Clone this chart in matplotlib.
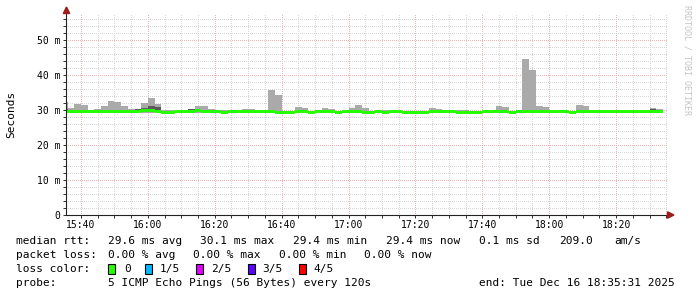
import matplotlib
matplotlib.use("Agg")
import matplotlib.pyplot as plt
from matplotlib.patches import Polygon, Rectangle
from matplotlib.ticker import FixedLocator, MultipleLocator, FuncFormatter

# ---------------- data (milliseconds, 2-minute steps from 15:34) ----------------
step_start_min = 34          # minutes after 15:00 of first step
step_len_min = 2

max_ms = [32.4, 30.5, 31.8, 31.4, 30.0, 30.4, 31.1, 32.7, 32.3, 31.1,
          30.4, 30.4, 32.1, 33.5, 31.8, 30.0, 30.0, 29.8, 29.8, 30.4,
          31.1, 31.1, 30.3, 29.8, 30.0, 30.0, 30.0, 30.3, 30.3, 30.1,
          30.1, 35.7, 34.3, 29.8, 29.8, 30.9, 30.6, 29.8, 30.1, 30.6,
          30.3, 29.8, 29.8, 30.6, 31.4, 30.6, 29.8, 30.0, 30.0, 30.0,
          29.6, 29.6, 29.6, 29.6, 29.6, 30.6, 30.3, 29.7, 29.7, 30.0,
          30.0, 29.6, 29.6, 29.6, 29.6, 31.1, 30.9, 29.7, 29.5, 44.6,
          41.4, 31.2, 30.9, 29.5, 29.5, 29.5, 29.5, 31.4, 31.2, 29.5,
          29.5, 29.5, 29.5, 29.5, 29.5, 29.5, 29.5, 29.5, 30.6, 30.2]

second_ms = [30.3, 29.9, 29.9, 29.9, 29.9, 29.9, 29.9, 29.9, 29.9, 29.9,
             29.9, 30.4, 30.5, 31.2, 31.0, 29.9, 29.9, 29.9, 29.9, 30.4,
             29.9, 29.9, 29.9, 29.9, 29.9, 29.9, 29.9, 29.9, 29.9, 30.1,
             30.1, 29.9, 29.9, 29.9, 29.9, 29.9, 29.9, 29.9, 29.9, 29.9,
             29.9, 29.9, 29.9, 29.9, 29.9, 29.9, 29.9, 29.9, 29.9, 29.9,
             29.9, 29.9, 29.9, 29.9, 29.9, 29.9, 29.9, 29.9, 29.9, 29.9,
             29.9, 29.9, 29.9, 29.9, 29.9, 29.9, 29.9, 29.9, 29.9, 29.9,
             29.9, 29.9, 29.9, 29.9, 29.9, 29.9, 29.9, 29.9, 29.9, 29.9,
             29.9, 29.9, 29.9, 29.9, 29.9, 29.9, 29.9, 29.9, 30.4, 30.1]

median_ms = [29.6, 29.6, 29.6, 29.6, 29.6, 29.6, 29.6, 29.6, 29.6, 29.6,
             29.6, 29.6, 29.8, 29.8, 29.6, 29.3, 29.3, 29.6, 29.6, 29.6,
             29.8, 29.6, 29.6, 29.6, 29.3, 29.6, 29.6, 29.6, 29.6, 29.6,
             29.6, 29.6, 29.3, 29.3, 29.3, 29.6, 29.6, 29.3, 29.6, 29.6,
             29.6, 29.3, 29.6, 29.6, 29.6, 29.3, 29.3, 29.6, 29.3, 29.6,
             29.6, 29.3, 29.3, 29.3, 29.3, 29.6, 29.6, 29.6, 29.6, 29.3,
             29.3, 29.3, 29.3, 29.6, 29.6, 29.6, 29.6, 29.3, 29.6, 29.6,
             29.6, 29.6, 29.6, 29.6, 29.6, 29.6, 29.3, 29.6, 29.6, 29.6,
             29.6, 29.6, 29.6, 29.6, 29.6, 29.6, 29.6, 29.6, 29.6, 29.6]

min_ms = [29.2] * len(max_ms)

x_tick_minutes = [40, 60, 80, 100, 120, 140, 160, 180, 200]
x_tick_labels = ["15:40", "16:00", "16:20", "16:40", "17:00", "17:20", "17:40", "18:00", "18:20"]
y_ticks_ms = [0, 10, 20, 30, 40, 50]

legend_lines = [
    [(16, "median rtt:"), (108, "29.6 ms avg"), (200, "30.1 ms max"), (293, "29.4 ms min"),
     (386, "29.4 ms now"), (479, "0.1 ms sd"), (559, "209.0"), (614, "am/s")],
    [(16, "packet loss:"), (108, "0.00 % avg"), (193, "0.00 % max"), (279, "0.00 % min"),
     (364, "0.00 % now")],
    [(16, "loss color:")],
    [(16, "probe:"), (108, "5 ICMP Echo Pings (56 Bytes) every 120s"),
     (479, "end: Tue Dec 16 18:35:31 2025")],
]
loss_labels = ["0", "1/5", "2/5", "3/5", "4/5"]
loss_colors = ["#26ff00", "#00b8ff", "#dd00ff", "#5e00ff", "#ff0000"]

# ---------------- figure ----------------
W, H = 697, 297
fig = plt.figure(figsize=(W / 100, H / 100), dpi=100)
fig.patch.set_facecolor("white")
ax_l, ax_r, ax_t, ax_b = 66, 668, 13, 215
ax = fig.add_axes([ax_l / W, (H - ax_b) / H, (ax_r - ax_l) / W, (ax_b - ax_t) / H])
ax.set_facecolor("white")

MONO = "DejaVu Sans Mono"
starts = [step_start_min + i * step_len_min for i in range(len(max_ms))]

# smoke
ax.bar(starts, [a - b for a, b in zip(max_ms, min_ms)], bottom=min_ms, width=step_len_min,
       align="edge", color="#aaaaaa", linewidth=0, zorder=2)
ax.bar(starts, [a - b for a, b in zip(second_ms, median_ms)], bottom=median_ms,
       width=step_len_min, align="edge", color="#5a5a5a", linewidth=0, zorder=3)
# median band (about 3 px thick)
band = 0.86
ax.bar(starts, [band] * len(median_ms), bottom=[m - band / 2 for m in median_ms],
       width=step_len_min, align="edge", color=loss_colors[0], linewidth=0, zorder=4)

ax.set_xlim(35.517, 215.517)
ax.set_ylim(0, 57.8)

ax.xaxis.set_major_locator(FixedLocator(x_tick_minutes))
ax.xaxis.set_minor_locator(MultipleLocator(5))
ax.set_xticklabels(x_tick_labels)
ax.yaxis.set_major_locator(FixedLocator(y_ticks_ms))
ax.yaxis.set_minor_locator(MultipleLocator(2))
ax.yaxis.set_major_formatter(FuncFormatter(lambda v, p: "0" if v == 0 else f"{int(v)} m"))

ax.set_axisbelow(True)
ax.grid(which="major", color="#eeb4b4", linestyle=(0, (1, 1.6)), linewidth=0.72, zorder=0,
        antialiased=False)
ax.grid(which="minor", color="#d6d6d6", linestyle=(0, (1, 1.6)), linewidth=0.72, zorder=0,
        antialiased=False)

ax.tick_params(which="both", direction="out", length=2.2, width=0.72, color="#333333",
               labelsize=7)
ax.tick_params(axis="x", which="both", pad=1.5)
ax.tick_params(axis="y", which="both", pad=2)
for lab in ax.get_xticklabels() + ax.get_yticklabels():
    lab.set_fontfamily(MONO)

for s in ("top", "right"):
    ax.spines[s].set_visible(False)
for s in ("left", "bottom"):
    ax.spines[s].set_color("#222222")
    ax.spines[s].set_linewidth(0.8)
    ax.spines[s].set_zorder(6)


def fpt(x, y):
    return (x / W, 1 - y / H)


arrow_col = "#a01c1c"
fig.patches.append(Polygon([fpt(63.3, 13.5), fpt(69.7, 13.5), fpt(66.5, 7)], closed=True,
                           transform=fig.transFigure, color=arrow_col, zorder=10))
fig.patches.append(Polygon([fpt(667.5, 211.8), fpt(667.5, 218.2), fpt(674, 215)], closed=True,
                           transform=fig.transFigure, color=arrow_col, zorder=10))

# axis unit label and watermark
fig.text(*fpt(11, 114), "Seconds", rotation=90, fontsize=8, family=MONO,
         ha="center", va="center")
fig.text(*fpt(687, 60), "RRDTOOL / TOBI OETIKER", rotation=270, fontsize=6, family=MONO,
         color="#c4c4c4", ha="center", va="center")

# legend text
line_y = [241, 255, 269, 283.5]
for y, items in zip(line_y, legend_lines):
    for x, s in items:
        fig.text(*fpt(x, y), s, fontsize=8, family=MONO, ha="left", va="center")

box_x = [108, 145, 196, 248, 299]
lab_x = [124, 160, 211, 262, 313]
for bx, lx, lab, col in zip(box_x, lab_x, loss_labels, loss_colors):
    fig.patches.append(Rectangle(fpt(bx, 274), 7 / W, 10 / H, transform=fig.transFigure,
                                 facecolor=col, edgecolor="black", linewidth=0.8))
    fig.text(*fpt(lx, line_y[2]), lab, fontsize=8, family=MONO, ha="left", va="center")

fig.savefig("out.png", dpi=100, facecolor="white")
